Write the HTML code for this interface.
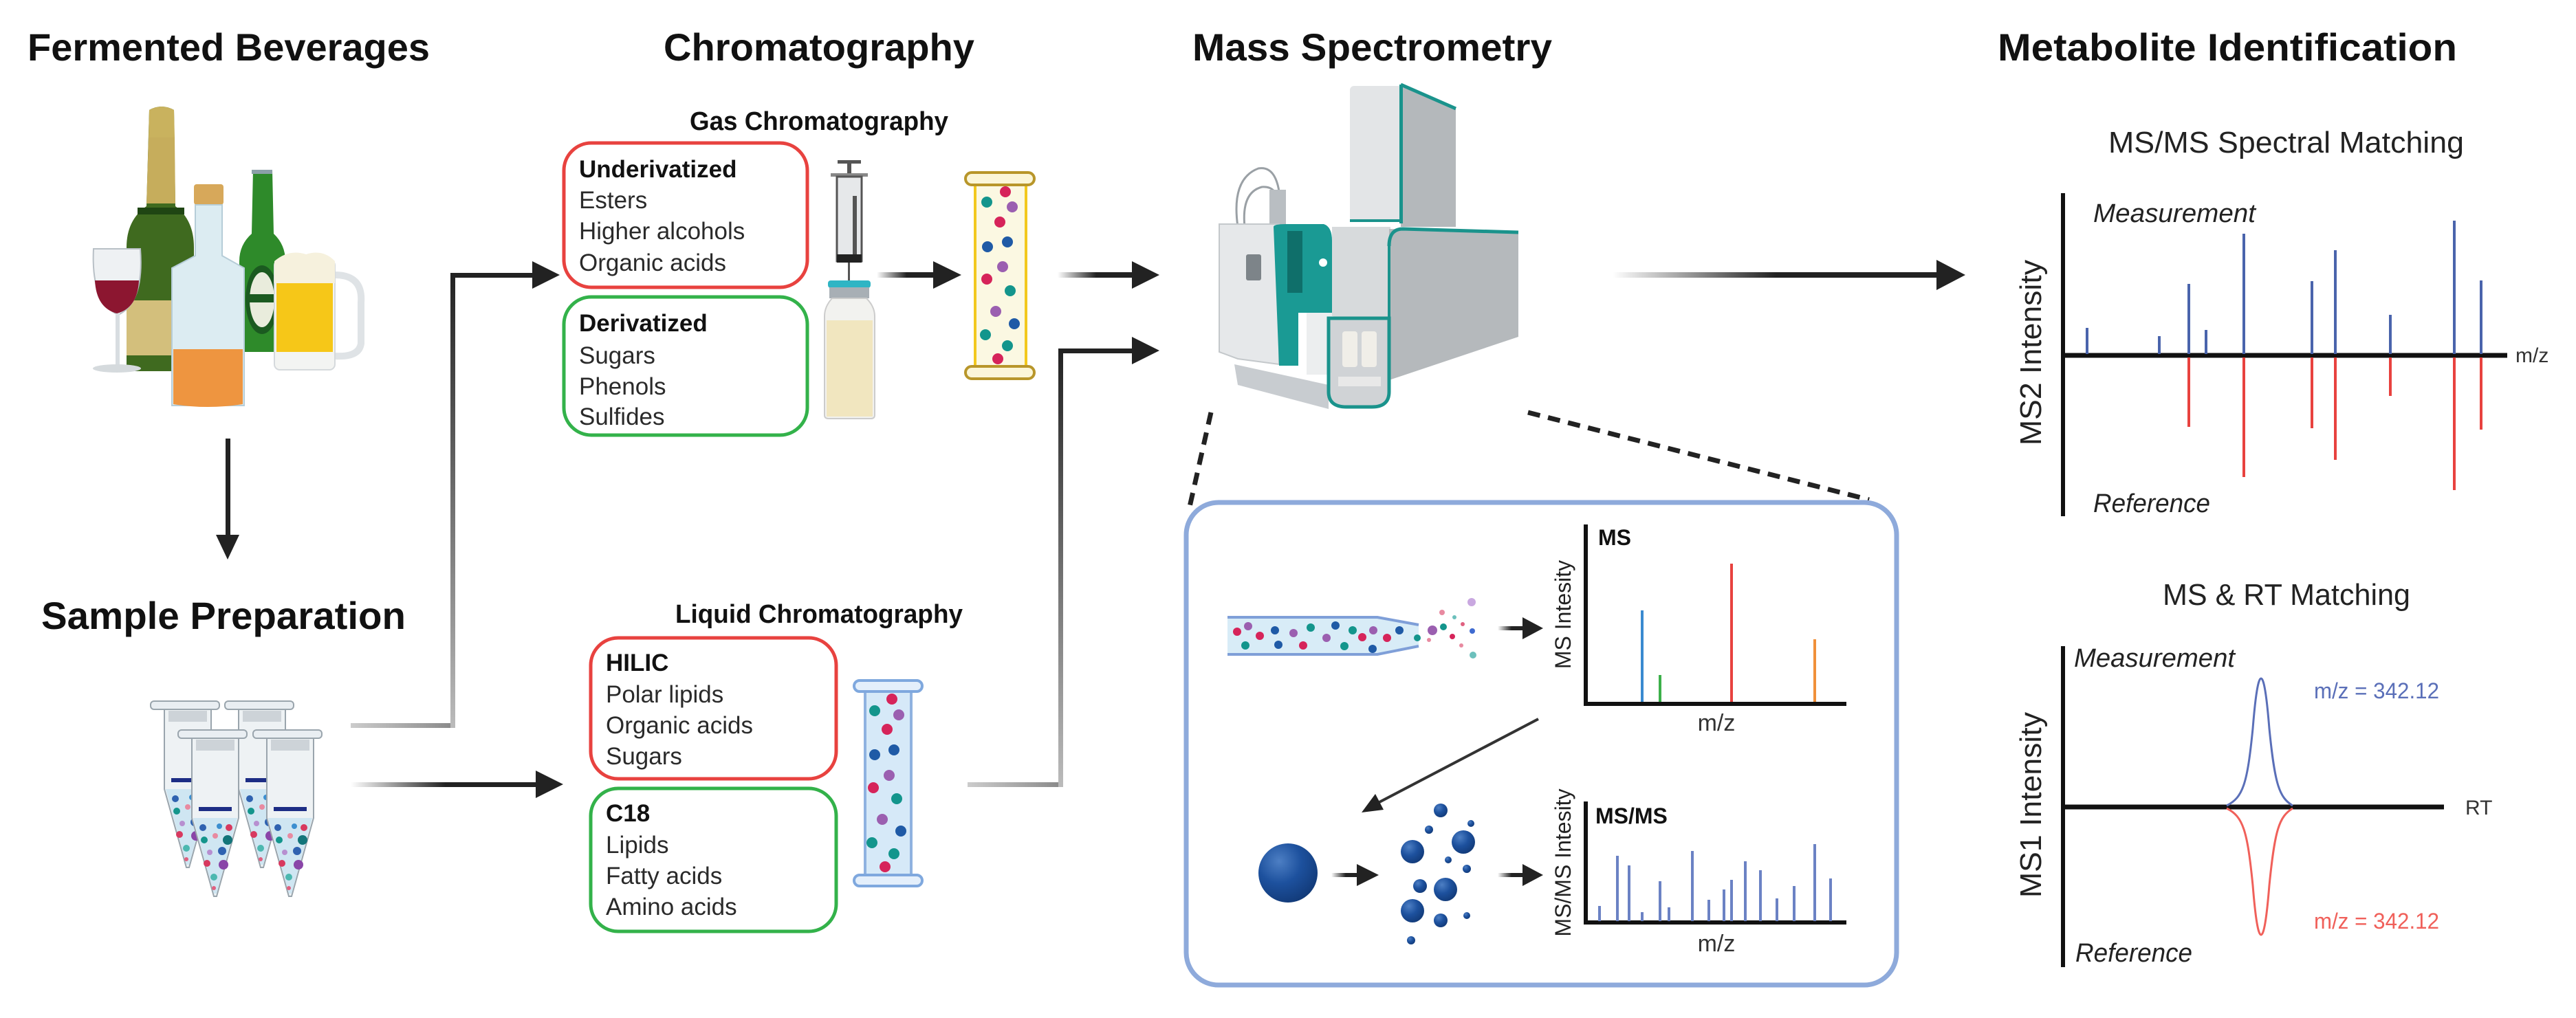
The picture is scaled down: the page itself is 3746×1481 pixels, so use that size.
<!DOCTYPE html>
<html><head><meta charset="utf-8"><style>
html,body{margin:0;padding:0;background:#fff;}
svg{display:block;}
text{font-family:"Liberation Sans",sans-serif;}
</style></head><body>
<svg width="3746" height="1481" viewBox="0 0 3746 1481" xmlns="http://www.w3.org/2000/svg">
<defs>
<linearGradient id="gh" x1="0" x2="1" y1="0" y2="0"><stop offset="0" stop-color="#222" stop-opacity="0"/><stop offset="0.5" stop-color="#222"/><stop offset="1" stop-color="#222"/></linearGradient>
<linearGradient id="gray" x1="0" x2="1"><stop offset="0" stop-color="#ccc"/><stop offset="1" stop-color="#888"/></linearGradient>
<linearGradient id="vg" x1="0" y1="1" x2="0" y2="0"><stop offset="0" stop-color="#bbb"/><stop offset="1" stop-color="#222"/></linearGradient>
<radialGradient id="ball" cx="0.35" cy="0.3" r="0.75"><stop offset="0" stop-color="#4d7fc4"/><stop offset="0.5" stop-color="#1d519e"/><stop offset="1" stop-color="#123a78"/></radialGradient>
<g id="tube">
 <rect x="-8" y="0" width="100" height="12" rx="5" fill="#e9eef2" stroke="#9aa5ad" stroke-width="2"/>
 <path d="M12 12 H80 V128 L48 242 L44 242 L12 128 Z" fill="#eef2f4" stroke="#9aa5ad" stroke-width="2"/>
 <rect x="18" y="14" width="56" height="16" fill="#cdd3d8"/>
 <path d="M14 128 H78 L48 238 L44 238 Z" fill="#cfe6f2"/>
 <rect x="22" y="112" width="48" height="6" fill="#1d2d85"/>
 <circle cx="28" cy="142" r="5" fill="#2f62b0"/><circle cx="52" cy="140" r="4" fill="#3c8fd0"/><circle cx="66" cy="142" r="5" fill="#d8395f"/>
 <circle cx="30" cy="160" r="5" fill="#13958c"/><circle cx="46" cy="154" r="4" fill="#e88aa0"/><circle cx="64" cy="160" r="7" fill="#13757a"/>
 <circle cx="38" cy="178" r="4" fill="#b78fd0"/><circle cx="56" cy="176" r="6" fill="#2f62b0"/>
 <circle cx="34" cy="194" r="5" fill="#d8395f"/><circle cx="58" cy="196" r="7" fill="#8a45a8"/>
 <circle cx="44" cy="214" r="5" fill="#4cb8b0"/><circle cx="44" cy="230" r="3" fill="#e06080"/>
</g>
</defs>

<!-- Titles -->
<g font-weight="bold" fill="#111" font-size="56">
<text x="40" y="88" textLength="585" lengthAdjust="spacingAndGlyphs">Fermented Beverages</text>
<text x="965" y="88" textLength="452" lengthAdjust="spacingAndGlyphs">Chromatography</text>
<text x="1734" y="88" textLength="523" lengthAdjust="spacingAndGlyphs">Mass Spectrometry</text>
<text x="2905" y="88" textLength="668" lengthAdjust="spacingAndGlyphs">Metabolite Identification</text>
<text x="60" y="915" textLength="530" lengthAdjust="spacingAndGlyphs">Sample Preparation</text>
</g>
<g font-weight="bold" fill="#111" font-size="38">
<text x="1003" y="189" textLength="376" lengthAdjust="spacingAndGlyphs">Gas Chromatography</text>
<text x="982" y="906" textLength="418" lengthAdjust="spacingAndGlyphs">Liquid Chromatography</text>
</g>

<!-- Beverages -->
<g>
 <path d="M217 160 Q235 150 253 160 L255 300 Q282 320 282 360 L282 540 L184 540 L184 360 Q184 320 213 300 Z" fill="#3f6a1f"/>
 <path d="M217 160 Q235 150 253 160 L254 200 L216 200 Z" fill="#c9b25e"/>
 <path d="M216 200 H254 L255 296 H213 Z" fill="#c6ad5c"/>
 <rect x="200" y="302" width="68" height="10" fill="#1f4513"/>
 <rect x="184" y="437" width="98" height="80" fill="#d3bf7c"/>
 <path d="M136 362 H204 Q210 440 172 458 Q132 440 136 362 Z" fill="#eef1f3" stroke="#b8c0c6" stroke-width="2"/>
 <path d="M138 408 H202 Q200 448 170 456 Q140 448 138 408 Z" fill="#8c1630"/>
 <rect x="168" y="456" width="6" height="76" fill="#d8dde1"/>
 <ellipse cx="170" cy="536" rx="35" ry="6" fill="#d5dadd"/>
 <path d="M368 248 H396 L398 340 Q415 356 415 380 L415 512 L348 512 L348 380 Q348 356 366 340 Z" fill="#2e8a2a"/>
 <rect x="366" y="247" width="30" height="6" fill="#8ba0a8"/>
 <ellipse cx="381" cy="436" rx="24" ry="50" fill="#1b5a20"/>
 <ellipse cx="381" cy="436" rx="18" ry="40" fill="#e9ecdc"/>
 <rect x="358" y="428" width="46" height="12" fill="#1b5a20"/>
 <path d="M487 400 Q528 400 525 440 L525 500 Q522 520 487 518" fill="none" stroke="#dfe3e6" stroke-width="10"/>
 <rect x="399" y="378" width="88" height="160" rx="8" fill="#f3f4f2" stroke="#d5d9dc" stroke-width="2"/>
 <rect x="402" y="412" width="82" height="100" fill="#f6c718"/>
 <path d="M399 380 Q420 362 445 370 Q470 362 487 380 L487 412 L399 412 Z" fill="#f6f1dd"/>
 <rect x="282" y="268" width="43" height="30" rx="4" fill="#d7a85a"/>
 <path d="M284 298 H323 L323 372 L355 390 L355 590 L250 590 L250 390 L284 372 Z" fill="#dcecf2" stroke="#b6cdd8" stroke-width="2"/>
 <path d="M252 508 H353 L353 588 Q302 596 252 588 Z" fill="#ee9540"/>
</g>

<!-- down arrow -->
<rect x="328" y="638" width="7" height="142" fill="#222"/>
<polygon points="314,778 348,778 331,814" fill="#222"/>

<!-- tubes -->
<use href="#tube" x="227" y="1020"/>
<use href="#tube" x="335" y="1020"/>
<use href="#tube" x="267" y="1062"/>
<use href="#tube" x="376" y="1062"/>

<!-- connectors left -->
<rect x="510" y="1052" width="152" height="7" fill="url(#gray)"/>
<rect x="655" y="397" width="7" height="662" fill="url(#vg)"/>
<rect x="655" y="397" width="125" height="7" fill="#222"/>
<polygon points="774,380 774,420 814,400" fill="#222"/>
<rect x="510" y="1138" width="275" height="7" fill="url(#gh)"/>
<polygon points="779,1121 779,1161 819,1141" fill="#222"/>

<!-- boxes -->
<rect x="820" y="208" width="354" height="210" rx="40" fill="#fff" stroke="#e8423f" stroke-width="5"/>
<rect x="820" y="432" width="354" height="201" rx="40" fill="#fff" stroke="#33b24a" stroke-width="5"/>
<rect x="859" y="928" width="357" height="205" rx="40" fill="#fff" stroke="#e8423f" stroke-width="5"/>
<rect x="859" y="1147" width="357" height="208" rx="40" fill="#fff" stroke="#33b24a" stroke-width="5"/>
<g font-size="35" fill="#2a2a2a">
 <text x="842" y="258" font-weight="bold" fill="#111">Underivatized</text>
 <text x="842" y="303">Esters</text>
 <text x="842" y="348">Higher alcohols</text>
 <text x="842" y="394">Organic acids</text>
 <text x="842" y="482" font-weight="bold" fill="#111">Derivatized</text>
 <text x="842" y="529">Sugars</text>
 <text x="842" y="574">Phenols</text>
 <text x="842" y="618">Sulfides</text>
 <text x="881" y="976" font-weight="bold" fill="#111">HILIC</text>
 <text x="881" y="1022">Polar lipids</text>
 <text x="881" y="1067">Organic acids</text>
 <text x="881" y="1112">Sugars</text>
 <text x="881" y="1195" font-weight="bold" fill="#111">C18</text>
 <text x="881" y="1241">Lipids</text>
 <text x="881" y="1286">Fatty acids</text>
 <text x="881" y="1331">Amino acids</text>
</g>

<!-- syringe & vial -->
<rect x="1218" y="233" width="34" height="5" fill="#555"/>
<rect x="1232" y="236" width="6" height="18" fill="#555"/>
<rect x="1208" y="252" width="54" height="5" fill="#888"/>
<rect x="1217" y="257" width="36" height="123" fill="#e6e8ea" stroke="#555" stroke-width="3"/>
<rect x="1240" y="285" width="6" height="90" fill="#555"/>
<rect x="1217" y="370" width="36" height="12" fill="#222"/>
<rect x="1233" y="382" width="3" height="28" fill="#555"/>
<rect x="1204" y="408" width="62" height="11" rx="4" fill="#2fb5c4"/>
<rect x="1206" y="418" width="58" height="16" fill="#a8afb5"/>
<path d="M1210 434 H1260 Q1272 446 1272 460 L1272 604 Q1272 609 1266 609 L1205 609 Q1199 609 1199 604 L1199 460 Q1199 446 1210 434 Z" fill="#f2f2ef" stroke="#ccc" stroke-width="2"/>
<rect x="1202" y="466" width="67" height="140" fill="#f1e6bf"/>
<rect x="1275" y="396" width="87" height="8" fill="url(#gh)"/>
<polygon points="1357,380 1357,420 1398,400" fill="#222"/>

<!-- GC column -->
<rect x="1418" y="262" width="74" height="280" fill="#fbf8e2" stroke="#f2c81e" stroke-width="4"/>
<rect x="1404" y="251" width="100" height="18" rx="9" fill="#fbf6d8" stroke="#b8962a" stroke-width="4"/>
<rect x="1404" y="533" width="100" height="18" rx="9" fill="#fbf6d8" stroke="#b8962a" stroke-width="4"/>
<g>
<circle cx="1462" cy="279" r="8" fill="#d6245a"/><circle cx="1435" cy="294" r="8" fill="#13958c"/><circle cx="1472" cy="301" r="8" fill="#9b5fb0"/>
<circle cx="1454" cy="323" r="8" fill="#d6245a"/><circle cx="1436" cy="359" r="8" fill="#1f5aa6"/><circle cx="1465" cy="352" r="8" fill="#1f5aa6"/>
<circle cx="1458" cy="388" r="8" fill="#9b5fb0"/><circle cx="1435" cy="406" r="8" fill="#d6245a"/><circle cx="1469" cy="423" r="8" fill="#13958c"/>
<circle cx="1448" cy="453" r="8" fill="#9b5fb0"/><circle cx="1475" cy="471" r="8" fill="#1f5aa6"/><circle cx="1433" cy="487" r="8" fill="#13958c"/>
<circle cx="1465" cy="503" r="8" fill="#13958c"/><circle cx="1451" cy="522" r="8" fill="#d6245a"/>
</g>

<!-- LC column -->
<rect x="1258" y="998" width="67" height="284" fill="#d6e9f8" stroke="#8fb2e0" stroke-width="4"/>
<rect x="1242" y="990" width="99" height="16" rx="8" fill="#e4effb" stroke="#7fa8de" stroke-width="4"/>
<rect x="1242" y="1273" width="99" height="16" rx="8" fill="#e4effb" stroke="#7fa8de" stroke-width="4"/>
<g>
<circle cx="1297" cy="1017" r="8" fill="#d6245a"/><circle cx="1272" cy="1034" r="8" fill="#13958c"/><circle cx="1307" cy="1040" r="8" fill="#9b5fb0"/>
<circle cx="1290" cy="1061" r="8" fill="#d6245a"/><circle cx="1272" cy="1098" r="8" fill="#1f5aa6"/><circle cx="1300" cy="1091" r="8" fill="#1f5aa6"/>
<circle cx="1293" cy="1128" r="8" fill="#9b5fb0"/><circle cx="1270" cy="1146" r="8" fill="#d6245a"/><circle cx="1304" cy="1162" r="8" fill="#13958c"/>
<circle cx="1283" cy="1192" r="8" fill="#9b5fb0"/><circle cx="1310" cy="1209" r="8" fill="#1f5aa6"/><circle cx="1268" cy="1226" r="8" fill="#13958c"/>
<circle cx="1300" cy="1242" r="8" fill="#13958c"/><circle cx="1287" cy="1261" r="8" fill="#d6245a"/>
</g>

<!-- connectors to MS -->
<rect x="1538" y="396" width="112" height="8" fill="url(#gh)"/>
<polygon points="1646,380 1646,420 1686,400" fill="#222"/>
<rect x="1407" y="1138" width="138" height="7" fill="url(#gray)"/>
<rect x="1539" y="507" width="7" height="638" fill="url(#vg)"/>
<rect x="1539" y="507" width="111" height="7" fill="#222"/>
<polygon points="1646,490 1646,530 1686,510" fill="#222"/>

<!-- MS instrument -->
<g>
 <path d="M1800 330 Q1790 260 1830 245 Q1860 240 1862 300" fill="none" stroke="#9aa0a5" stroke-width="3"/>
 <path d="M1810 330 Q1805 280 1835 272 Q1858 270 1860 300" fill="none" stroke="#9aa0a5" stroke-width="3"/>
 <rect x="1846" y="276" width="24" height="52" fill="#b9bec2"/>
 <rect x="1963" y="125" width="76" height="198" rx="6" fill="#e3e5e7"/>
 <path d="M2037 123 L2117 158 L2117 330 L2037 330 Z" fill="#b4b8bb"/>
 <path d="M2037 123 L2117 158" stroke="#1a938c" stroke-width="5"/>
 <rect x="2035" y="123" width="5" height="202" fill="#1a938c"/>
 <rect x="1963" y="319" width="74" height="4" fill="#1a938c"/>
 <path d="M1773 326 L1860 326 L1860 530 L1800 522 L1773 512 Z" fill="#e6e8ea" stroke="#c4c8cb" stroke-width="2"/>
 <path d="M1795 530 L1932 560 L1932 595 L1800 560 Z" fill="#c8ccd0"/>
 <rect x="1812" y="370" width="22" height="38" rx="3" fill="#7d8489"/>
 <path d="M1852 330 Q1852 326 1870 326 L1925 326 Q1937 330 1937 350 L1937 530 L1900 530 L1900 455 L1888 455 L1888 532 L1860 532 Z" fill="#1a9a94"/>
 <rect x="1872" y="336" width="22" height="90" fill="#0f6f6a"/>
 <circle cx="1924" cy="382" r="6" fill="#fff"/>
 <path d="M1937 330 L2022 330 L2022 460 Q1980 470 1937 460 Z" fill="#d7dadc"/>
 <rect x="1900" y="455" width="37" height="90" fill="#eceeef"/>
 <path d="M2020 333 L2208 338 L2208 490 L2020 553 Z" fill="#b5b9bc"/>
 <path d="M2020 358 Q2020 333 2040 333 L2208 338" fill="none" stroke="#1a938c" stroke-width="5"/>
 <rect x="2018" y="350" width="4" height="210" fill="#1a938c"/>
 <path d="M1932 463 L2020 463 L2020 570 Q2020 592 1995 592 L1958 592 Q1932 592 1932 570 Z" fill="#d0d3d6" stroke="#1a938c" stroke-width="5"/>
 <rect x="1952" y="482" width="22" height="52" rx="4" fill="#f0eee8"/>
 <rect x="1980" y="482" width="22" height="52" rx="4" fill="#f0eee8"/>
 <rect x="1946" y="548" width="62" height="14" fill="#e8e8e8"/>
</g>

<!-- big arrow -->
<rect x="2345" y="396" width="475" height="8" fill="url(#gh)"/>
<polygon points="2816,378 2816,422 2858,400" fill="#222"/>

<!-- dashed zoom lines -->
<line x1="1761" y1="600" x2="1728" y2="746" stroke="#222" stroke-width="7" stroke-dasharray="18,12"/>
<line x1="2222" y1="600" x2="2718" y2="727" stroke="#222" stroke-width="7" stroke-dasharray="18,12"/>

<!-- inset box -->
<rect x="1725" y="731" width="1033" height="702" rx="47" fill="#fff" stroke="#8eaadb" stroke-width="7"/>
<path d="M1785 898 H2003 L2063 909 L2063 940 L2003 952 H1785 Z" fill="#d8ecf7"/>
<path d="M1785 898 H2003 L2063 909 M1785 952 H2003 L2063 940" fill="none" stroke="#7f9fd8" stroke-width="4"/>
<g>
<circle cx="1799" cy="919" r="6" fill="#d6245a"/><circle cx="1815" cy="911" r="6" fill="#9b5fb0"/><circle cx="1832" cy="925" r="6" fill="#d6245a"/>
<circle cx="1811" cy="939" r="6" fill="#13958c"/><circle cx="1854" cy="917" r="6" fill="#1f5aa6"/><circle cx="1859" cy="938" r="6" fill="#1f5aa6"/>
<circle cx="1881" cy="921" r="6" fill="#9b5fb0"/><circle cx="1895" cy="939" r="6" fill="#d6245a"/><circle cx="1906" cy="913" r="6" fill="#13958c"/>
<circle cx="1929" cy="928" r="6" fill="#9b5fb0"/><circle cx="1942" cy="910" r="6" fill="#1f5aa6"/><circle cx="1955" cy="940" r="6" fill="#13958c"/>
<circle cx="1967" cy="917" r="6" fill="#13958c"/><circle cx="1981" cy="927" r="6" fill="#d6245a"/><circle cx="1997" cy="917" r="6" fill="#9b5fb0"/>
<circle cx="1996" cy="944" r="6" fill="#1f5aa6"/><circle cx="2017" cy="928" r="6" fill="#d6245a"/><circle cx="2035" cy="917" r="6" fill="#1f5aa6"/>
<circle cx="2061" cy="928" r="5" fill="#13958c"/><circle cx="2083" cy="917" r="7" fill="#9b5fb0"/><circle cx="2078" cy="931" r="3" fill="#e88aa0"/>
<circle cx="2099" cy="912" r="5" fill="#13958c"/><circle cx="2112" cy="926" r="4" fill="#d6245a"/><circle cx="2097" cy="891" r="4" fill="#e88aa0"/>
<circle cx="2140" cy="876" r="6" fill="#c9a8e0"/><circle cx="2141" cy="918" r="4" fill="#3f6bd0"/><circle cx="2125" cy="939" r="3" fill="#e88aa0"/><circle cx="2142" cy="953" r="5" fill="#6cc0bc"/>
<circle cx="2115" cy="898" r="3" fill="#6cc0bc"/><circle cx="2127" cy="908" r="3" fill="#e06080"/>
</g>
<rect x="2178" y="911" width="40" height="6" fill="url(#gh)"/>
<polygon points="2214,898 2214,930 2244,914" fill="#222"/>

<!-- MS chart -->
<polyline points="2306,763 2306,1024 2685,1024" fill="none" stroke="#111" stroke-width="6"/>
<text x="2324" y="793" font-size="32" font-weight="bold" fill="#111">MS</text>
<text transform="translate(2284,894) rotate(-90)" text-anchor="middle" font-size="32" fill="#222">MS Intesity</text>
<rect x="2386" y="888" width="4" height="133" fill="#3a8ad0"/>
<rect x="2412" y="982" width="4" height="39" fill="#3cb04a"/>
<rect x="2516" y="820" width="4" height="201" fill="#e8423f"/>
<rect x="2637" y="930" width="4" height="91" fill="#f0903a"/>
<text x="2496" y="1063" text-anchor="middle" font-size="34" fill="#333">m/z</text>

<!-- diagonal arrow -->
<line x1="2237" y1="1046" x2="2000" y2="1170" stroke="#333" stroke-width="4"/>
<polygon points="1980,1182 2000,1155 2012,1178" fill="#222"/>

<!-- ball -->
<circle cx="1873" cy="1270" r="43" fill="url(#ball)"/>
<rect x="1936" y="1270" width="42" height="6" fill="url(#gh)"/>
<polygon points="1973,1257 1973,1289 2005,1273" fill="#222"/>
<g fill="url(#ball)">
<circle cx="2095" cy="1179" r="10"/><circle cx="2078" cy="1207" r="6"/><circle cx="2128" cy="1225" r="17"/><circle cx="2139" cy="1198" r="5"/>
<circle cx="2054" cy="1239" r="17"/><circle cx="2106" cy="1251" r="5"/><circle cx="2133" cy="1264" r="6"/><circle cx="2065" cy="1289" r="10"/>
<circle cx="2102" cy="1294" r="17"/><circle cx="2054" cy="1325" r="17"/><circle cx="2095" cy="1339" r="10"/><circle cx="2133" cy="1332" r="5"/><circle cx="2052" cy="1368" r="6"/>
</g>
<rect x="2178" y="1270" width="40" height="6" fill="url(#gh)"/>
<polygon points="2214,1257 2214,1289 2244,1273" fill="#222"/>

<!-- MS/MS chart -->
<polyline points="2306,1166 2306,1342 2685,1342" fill="none" stroke="#111" stroke-width="6"/>
<text x="2320" y="1198" font-size="32" font-weight="bold" fill="#111">MS/MS</text>
<text transform="translate(2284,1255) rotate(-90)" text-anchor="middle" font-size="32" fill="#222">MS/MS Intesity</text>
<g stroke="#6b82c4" stroke-width="4">
<line x1="2326" y1="1340" x2="2326" y2="1318"/><line x1="2352" y1="1340" x2="2352" y2="1245"/><line x1="2369" y1="1340" x2="2369" y2="1259"/>
<line x1="2388" y1="1340" x2="2388" y2="1327"/><line x1="2414" y1="1340" x2="2414" y2="1282"/><line x1="2427" y1="1340" x2="2427" y2="1320"/>
<line x1="2461" y1="1340" x2="2461" y2="1238"/><line x1="2485" y1="1340" x2="2485" y2="1309"/><line x1="2507" y1="1340" x2="2507" y2="1294"/>
<line x1="2518" y1="1340" x2="2518" y2="1280"/><line x1="2538" y1="1340" x2="2538" y2="1253"/><line x1="2560" y1="1340" x2="2560" y2="1266"/>
<line x1="2584" y1="1340" x2="2584" y2="1307"/><line x1="2609" y1="1340" x2="2609" y2="1289"/><line x1="2639" y1="1340" x2="2639" y2="1228"/><line x1="2662" y1="1340" x2="2662" y2="1278"/>
</g>
<text x="2496" y="1384" text-anchor="middle" font-size="34" fill="#333">m/z</text>

<!-- MS/MS Spectral matching -->
<text x="3066" y="222" font-size="44" fill="#222" textLength="517" lengthAdjust="spacingAndGlyphs">MS/MS Spectral Matching</text>
<line x1="3000" y1="281" x2="3000" y2="751" stroke="#111" stroke-width="6"/>
<line x1="3000" y1="517" x2="3646" y2="517" stroke="#111" stroke-width="7"/>
<text x="3658" y="527" font-size="30" fill="#333">m/z</text>
<text x="3044" y="323" font-size="38" font-style="italic" fill="#222" textLength="236" lengthAdjust="spacingAndGlyphs">Measurement</text>
<text x="3044" y="745" font-size="38" font-style="italic" fill="#222" textLength="170" lengthAdjust="spacingAndGlyphs">Reference</text>
<text transform="translate(2968,513) rotate(-90)" text-anchor="middle" font-size="44" fill="#222" textLength="270" lengthAdjust="spacingAndGlyphs">MS2 Intensity</text>
<g stroke="#4a64ac" stroke-width="4">
<line x1="3035" y1="515" x2="3035" y2="477"/><line x1="3140" y1="515" x2="3140" y2="489"/><line x1="3183" y1="515" x2="3183" y2="413"/>
<line x1="3208" y1="515" x2="3208" y2="480"/><line x1="3263" y1="515" x2="3263" y2="340"/><line x1="3362" y1="515" x2="3362" y2="409"/>
<line x1="3396" y1="515" x2="3396" y2="364"/><line x1="3476" y1="515" x2="3476" y2="458"/><line x1="3569" y1="515" x2="3569" y2="321"/><line x1="3608" y1="515" x2="3608" y2="408"/>
</g>
<g stroke="#e8423f" stroke-width="4">
<line x1="3183" y1="520" x2="3183" y2="621"/><line x1="3263" y1="520" x2="3263" y2="694"/><line x1="3362" y1="520" x2="3362" y2="623"/>
<line x1="3396" y1="520" x2="3396" y2="669"/><line x1="3476" y1="520" x2="3476" y2="576"/><line x1="3569" y1="520" x2="3569" y2="713"/><line x1="3608" y1="520" x2="3608" y2="625"/>
</g>

<!-- MS & RT matching -->
<text x="3145" y="880" font-size="44" fill="#222" textLength="360" lengthAdjust="spacingAndGlyphs">MS &amp; RT Matching</text>
<line x1="3000" y1="940" x2="3000" y2="1407" stroke="#111" stroke-width="6"/>
<line x1="3000" y1="1174" x2="3554" y2="1174" stroke="#111" stroke-width="7"/>
<text x="3585" y="1185" font-size="30" fill="#333">RT</text>
<text x="3016" y="970" font-size="38" font-style="italic" fill="#222" textLength="234" lengthAdjust="spacingAndGlyphs">Measurement</text>
<text x="3018" y="1399" font-size="38" font-style="italic" fill="#222" textLength="170" lengthAdjust="spacingAndGlyphs">Reference</text>
<text transform="translate(2968,1171) rotate(-90)" text-anchor="middle" font-size="44" fill="#222" textLength="270" lengthAdjust="spacingAndGlyphs">MS1 Intensity</text>
<path d="M3238 1172 C3262 1160 3268 1140 3276 1060 C3280 1010 3284 987 3288 987 C3292 987 3296 1010 3300 1060 C3308 1140 3314 1160 3334 1172" fill="none" stroke="#5a6fb8" stroke-width="3"/>
<path d="M3238 1176 C3262 1188 3268 1208 3276 1288 C3280 1338 3284 1360 3288 1360 C3292 1360 3296 1338 3300 1288 C3308 1208 3314 1188 3334 1176" fill="none" stroke="#f0605a" stroke-width="3"/>
<text x="3365" y="1016" font-size="32" fill="#5a6fb8" textLength="182" lengthAdjust="spacingAndGlyphs">m/z = 342.12</text>
<text x="3365" y="1351" font-size="32" fill="#f0605a" textLength="182" lengthAdjust="spacingAndGlyphs">m/z = 342.12</text>
</svg>
</body></html>
